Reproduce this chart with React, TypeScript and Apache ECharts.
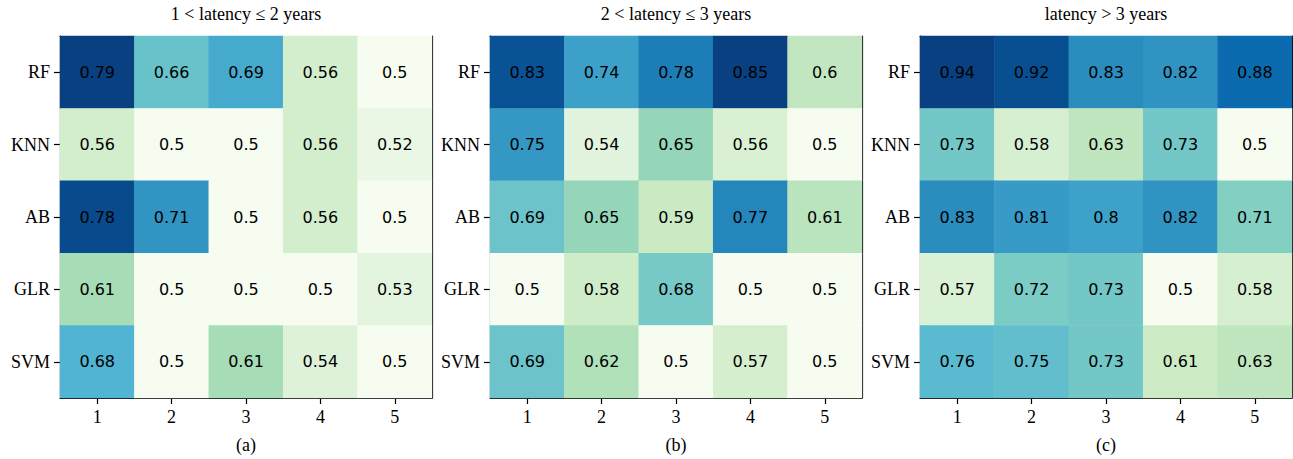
import React, { useEffect, useRef } from "react";
import * as echarts from "echarts";

const models = ["RF", "KNN", "AB", "GLR", "SVM"];
const xLabels = ["1", "2", "3", "4", "5"];
const titles = ["1 < latency ≤ 2 years", "2 < latency ≤ 3 years", "latency > 3 years"];
const subLabels = ["(a)", "(b)", "(c)"];

const panelA = [
  [0.79, 0.66, 0.69, 0.56, 0.5],
  [0.56, 0.5, 0.5, 0.56, 0.52],
  [0.78, 0.71, 0.5, 0.56, 0.5],
  [0.61, 0.5, 0.5, 0.5, 0.53],
  [0.68, 0.5, 0.61, 0.54, 0.5],
];
const panelB = [
  [0.83, 0.74, 0.78, 0.85, 0.6],
  [0.75, 0.54, 0.65, 0.56, 0.5],
  [0.69, 0.65, 0.59, 0.77, 0.61],
  [0.5, 0.58, 0.68, 0.5, 0.5],
  [0.69, 0.62, 0.5, 0.57, 0.5],
];
const panelC = [
  [0.94, 0.92, 0.83, 0.82, 0.88],
  [0.73, 0.58, 0.63, 0.73, 0.5],
  [0.83, 0.81, 0.8, 0.82, 0.71],
  [0.57, 0.72, 0.73, 0.5, 0.58],
  [0.76, 0.75, 0.73, 0.61, 0.63],
];
const panels = [panelA, panelB, panelC];

const gnbu = ["#f7fcf0", "#e0f3db", "#ccebc5", "#a8ddb5", "#7bccc4", "#4eb3d3", "#2b8cbe", "#0868ac", "#084081"];

const gridLefts = [60, 490, 920];
const gridTop = 33;
const gridSize = 372;
const serif = "'Liberation Serif', 'Times New Roman', serif";

export default function App() {
  const ref = useRef<HTMLDivElement>(null);
  useEffect(() => {
    const chart = echarts.init(ref.current!, undefined, { renderer: "svg" });
    const grid: any[] = [];
    const xAxis: any[] = [];
    const yAxis: any[] = [];
    const series: any[] = [];
    const visualMap: any[] = [];
    panels.forEach((p, i) => {
      grid.push({ left: gridLefts[i], top: gridTop, width: gridSize, height: gridSize + 1 });
      xAxis.push({
        type: "category",
        gridIndex: i,
        data: xLabels,
        position: "bottom",
        axisLine: { show: true, lineStyle: { color: "#000", width: 1.2 } },
        axisTick: { show: true, alignWithLabel: true, length: 6, lineStyle: { color: "#000", width: 1.2 } },
        axisLabel: { color: "#000", fontSize: 18, fontFamily: serif, margin: 10 },
        splitLine: { show: false },
        name: subLabels[i],
        nameLocation: "middle",
        nameGap: 38,
        nameTextStyle: { color: "#000", fontSize: 18, fontFamily: serif },
      });
      xAxis.push({
        type: "category",
        gridIndex: i,
        data: xLabels,
        position: "top",
        axisLine: { show: true, lineStyle: { color: "#000", width: 1.2 } },
        axisTick: { show: false },
        axisLabel: { show: false },
        name: titles[i],
        nameLocation: "middle",
        nameGap: 13,
        nameTextStyle: { color: "#000", fontSize: 18, fontFamily: serif },
      });
      yAxis.push({
        type: "category",
        gridIndex: i,
        data: models,
        inverse: true,
        position: "left",
        axisLine: { show: true, lineStyle: { color: "#000", width: 1.2 } },
        axisTick: { show: true, alignWithLabel: true, length: 6, lineStyle: { color: "#000", width: 1.2 } },
        axisLabel: { color: "#000", fontSize: 18, fontFamily: serif, margin: 10 },
      });
      yAxis.push({
        type: "category",
        gridIndex: i,
        data: models,
        inverse: true,
        position: "right",
        axisLine: { show: true, lineStyle: { color: "#000", width: 1.2 } },
        axisTick: { show: false },
        axisLabel: { show: false },
      });
      const data: any[] = [];
      p.forEach((row, r) => row.forEach((v, c) => data.push([c, r, v])));
      let mn = Infinity, mx = -Infinity;
      p.forEach((row) => row.forEach((v) => { mn = Math.min(mn, v); mx = Math.max(mx, v); }));
      series.push({
        type: "heatmap",
        xAxisIndex: i * 2,
        yAxisIndex: i * 2,
        data,
        z: 1,
        label: {
          show: true,
          color: "#000",
          fontSize: 16,
          fontFamily: "'DejaVu Sans', sans-serif",
          formatter: (pp: any) => String(pp.value[2]),
        },
        itemStyle: { borderWidth: 0 },
        emphasis: { disabled: true },
      });
      visualMap.push({
        show: false,
        seriesIndex: i,
        dimension: 2,
        min: mn,
        max: mx,
        inRange: { color: gnbu },
      });
    });
    chart.setOption({
      animation: false,
      backgroundColor: "#fff",
      grid,
      xAxis,
      yAxis,
      series,
      visualMap,
    });
    return () => chart.dispose();
  }, []);
  return (
    <div
      ref={ref}
      style={{ position: "absolute", left: 0, top: 0, width: 1293, height: 459 }}
    />
  );
}
